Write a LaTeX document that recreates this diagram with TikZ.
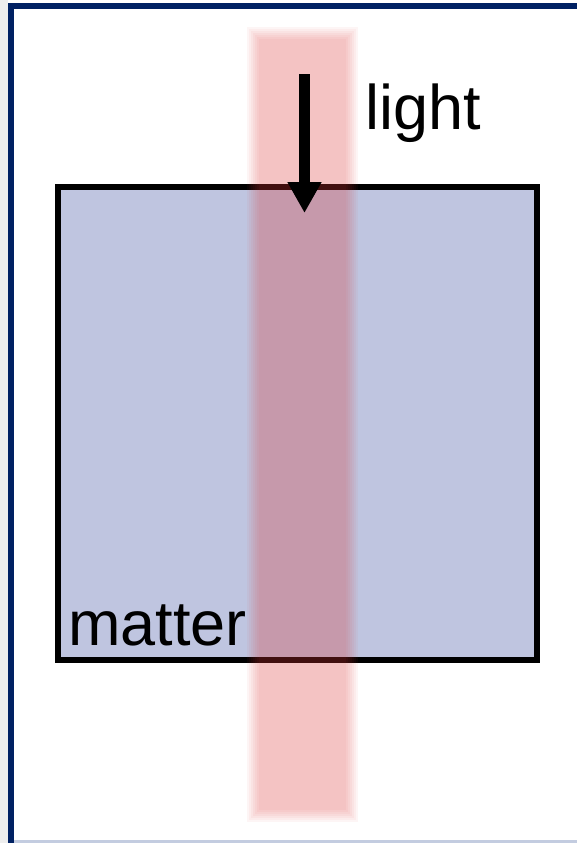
\documentclass[tikz,border=0pt]{standalone}
\usepackage{fontspec}
\setmainfont{Liberation Sans}
\usetikzlibrary{arrows.meta}
\definecolor{framenavy}{RGB}{0,33,99}
\definecolor{framegray}{RGB}{238,238,238}
\definecolor{frameline}{RGB}{195,204,224}
\definecolor{matterblue}{RGB}{191,197,224}
\definecolor{beamred}{RGB}{220,60,60}

\begin{document}
\begin{tikzpicture}[x=0.5pt, y=-0.5pt, font=\fontsize{31.5}{36}\selectfont,
  matterbox/.style={draw=black, line width=3pt, fill=matterblue,
    minimum width=239.5pt, minimum height=236.5pt, inner sep=0pt},
  lightarrow/.style={-{Triangle[width=16pt,length=15.5pt]}, line width=5.5pt},
  tag/.style={inner sep=0pt, anchor=base west}]
\useasboundingbox (0,0) rectangle (577,843);
% frame
\fill[framegray] (0,0) rectangle (8,843);
\fill[framenavy] (8,3) rectangle (577,9);
\fill[framenavy] (8,3) rectangle (14,843);
\fill[frameline] (14,840) rectangle (577,843);
% matter block
\node[matterbox] (block) at (297.5,423.5) {};
\node[tag] (mattertext) at (68,645) {matter};
% light beam, soft edges from stacked layers
\foreach \e in {0,2,...,12}
  \fill[beamred, opacity=0.052] (247+\e,27+\e) rectangle (358-\e,822-\e);
% incoming light
\coordinate (beamtop) at (304.5,74);
\coordinate (beamhit) at (304.5,213);
\draw[lightarrow] (beamtop) -- (beamhit);
\node[tag] (lighttext) at (365,129) {light};
\end{tikzpicture}
\end{document}
